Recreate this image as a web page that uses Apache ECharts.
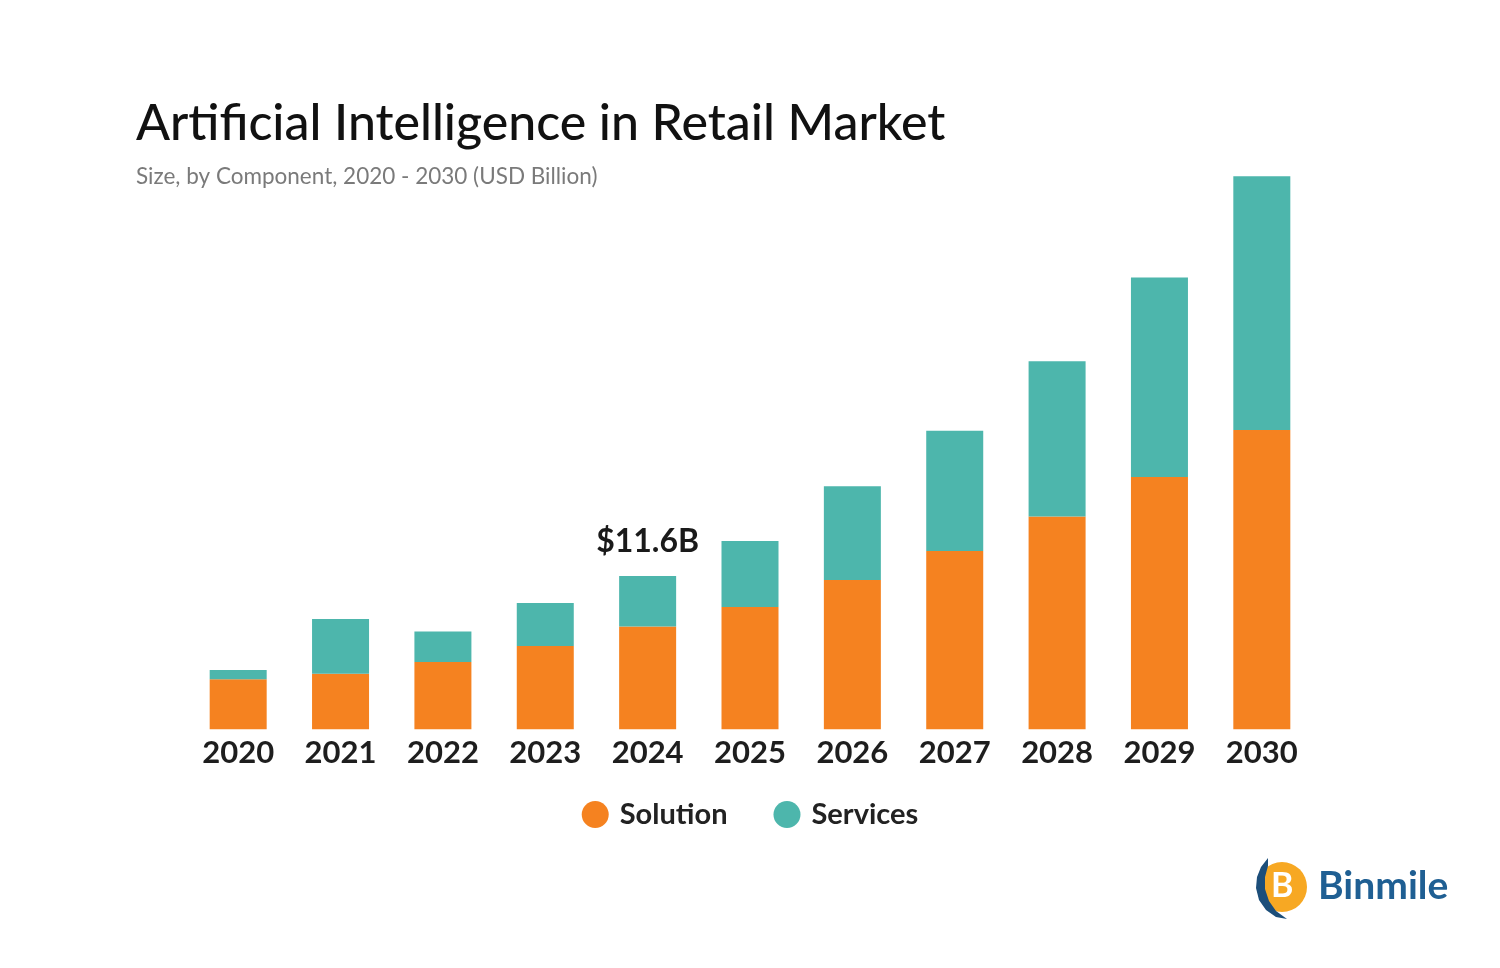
<!DOCTYPE html>
<html><head><meta charset="utf-8">
<script src="https://cdn.jsdelivr.net/npm/echarts@6/dist/echarts.min.js"></script>
<style>html,body{margin:0;padding:0;background:#fff}#c{width:1500px;height:968px}</style>
</head><body><div id="c"></div>
<script>
const years = ['2020','2021','2022','2023','2024','2025','2026','2027','2028','2029','2030'];
const solution = [3.79, 4.2, 5.1, 6.3, 7.78, 9.25, 11.3, 13.5, 16.1, 19.1, 22.65];
const services = [0.7, 4.15, 2.3, 3.25, 3.82, 5.0, 7.1, 9.1, 11.75, 15.1, 19.2];
const highlightIndex = 4;
const highlightLabel = '$11.6B';

const chart = echarts.init(document.getElementById('c'));
const FONT = 'Lato, "Noto Sans", sans-serif';
chart.setOption({
  backgroundColor: '#ffffff',
  animation: false,
  title: {
    text: 'Artificial Intelligence in Retail Market',
    subtext: 'Size, by Component, 2020 - 2030 (USD Billion)',
    left: 131, top: 94,
    itemGap: 16,
    textStyle: { fontFamily: FONT, fontSize: 50, fontWeight: 500, color: '#111111' },
    subtextStyle: { fontFamily: FONT, fontSize: 22.5, color: '#7a7a7a' }
  },
  legend: {
    data: ['Solution','Services'],
    left: 'center', top: 795,
    icon: 'circle', itemWidth: 27, itemHeight: 27, itemGap: 46,
    textStyle: { fontFamily: FONT, fontSize: 29, fontWeight: 700, color: '#222222', padding: [0,0,0,6] }
  },
  grid: { left: 187, right: 187, top: 68.6, bottom: 238.7 },
  xAxis: {
    type: 'category', data: years,
    axisLine: { show: false }, axisTick: { show: false },
    axisLabel: { fontFamily: FONT, fontSize: 31, fontWeight: 700, color: '#1e1e1e', margin: 8 }
  },
  yAxis: { type: 'value', min: 0, max: 50, show: false, splitLine: { show: false } },
  series: [
    { name: 'Solution', type: 'bar', stack: 't', barWidth: 57, data: solution,
      itemStyle: { color: '#F58220' } },
    { name: 'Services', type: 'bar', stack: 't', barWidth: 57,
      data: services.map((v, i) => i === highlightIndex ? {
        value: v,
        label: { show: true, position: 'top', distance: 18, formatter: highlightLabel,
          fontFamily: FONT, fontSize: 32, fontWeight: 700, color: '#1a1a1a' }
      } : v),
      itemStyle: { color: '#4DB6AC' } }
  ],
  graphic: [
    { type: 'circle', shape: { cx: 1282, cy: 887, r: 25 }, style: { fill: '#F7A823' } },
    { type: 'polygon', shape: { points: [[1268,858],[1261,867],[1257,877],[1256,888],[1259,900],[1266,910],[1276,917],[1287,919],[1276,911],[1269,901],[1265,889],[1265,877],[1268,866]] }, style: { fill: '#1C4E7A' } },
    { type: 'text', left: 1271, top: 869, style: { text: 'B', font: 'bold 34px ' + FONT, fill: '#ffffff' } },
    { type: 'text', left: 1318, top: 867, style: { text: 'Binmile', font: 'bold 39px ' + FONT, fill: '#1F5F93' } }
  ]
});
</script></body></html>
